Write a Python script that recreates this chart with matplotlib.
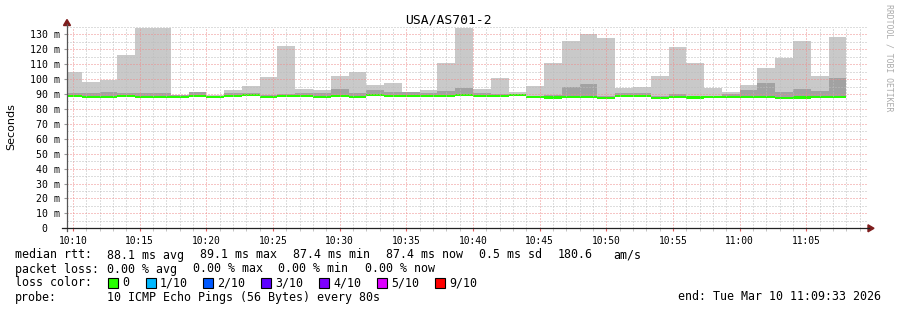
import numpy as np
import matplotlib.pyplot as plt
from matplotlib.ticker import MultipleLocator, FixedLocator
from matplotlib.patches import Polygon, Rectangle

W, H = 897, 310

title = 'USA/AS701-2'
step = 80
first_bar = 10 * 3600 + 9 * 60 + 20      # 10:09:20, first 80s slot (partly cut)
t_start = 10 * 3600 + 9 * 60 + 33        # 10:09:33
t_end = 11 * 3600 + 9 * 60 + 33          # 11:09:33

# median rtt per 80s slot (ms)
median = [88.6, 88.1, 88.1, 88.6, 88.2, 88.2, 88.2, 88.6, 88.1, 88.7,
          89.1, 88.2, 88.7, 88.7, 88.1, 88.8, 88.2, 89.1, 88.7, 88.7,
          88.7, 88.7, 89.1, 88.6, 88.9, 89.1, 88.0, 87.6, 88.0, 87.8,
          87.4, 88.6, 88.6, 87.5, 88.0, 87.6, 87.8, 88.0, 87.8, 88.2,
          87.5, 87.6, 87.8, 87.8]
# top of the smoke (max ping)
smoke_max = [105.0, 98.3, 99.6, 116.2, 134.2, 134.2, 89.6, 91.4, 89.2, 92.9,
             95.4, 101.4, 122.2, 93.4, 92.7, 102.0, 105.0, 96.0, 97.5, 91.3,
             92.7, 110.5, 134.2, 93.5, 100.8, 91.5, 95.4, 110.9, 125.6, 130.2,
             127.5, 94.0, 94.7, 102.0, 121.5, 110.8, 94.0, 91.4, 96.0, 107.4,
             114.1, 125.5, 102.1, 128.2]
# top of the dense (darker) smoke
smoke_mid = [90.7, 90.5, 91.6, 90.5, 90.7, 90.7, 89.4, 91.6, 89.0, 90.7,
             90.7, 89.5, 89.8, 90.8, 90.8, 93.4, 90.9, 92.7, 91.4, 91.4,
             91.0, 92.0, 94.0, 90.7, 89.9, 89.9, 89.0, 89.3, 94.7, 96.7,
             89.0, 90.7, 90.7, 88.5, 90.0, 89.0, 89.0, 90.0, 92.7, 97.4,
             91.4, 93.4, 92.0, 100.7]

xtick_labels = ['10:10', '10:15', '10:20', '10:25', '10:30', '10:35',
                '10:40', '10:45', '10:50', '10:55', '11:00', '11:05']
ytick_values = [0, 10, 20, 30, 40, 50, 60, 70, 80, 90, 100, 110, 120, 130]

loss_labels = ['0', '1/10', '2/10', '3/10', '4/10', '5/10', '9/10']
loss_colors = ['#26ff00', '#00b8ff', '#0059ff', '#5e00ff', '#7e00ff', '#dd00ff', '#ff0000']

mono = 'DejaVu Sans Mono'


def fx(x):
    return x / W


def fy(y):
    return 1 - y / H


fig = plt.figure(figsize=(W / 100, H / 100), dpi=100)
fig.patch.set_facecolor('white')

x0, x1, ybot, ytop = 67, 867, 228.3, 26.9
ax = fig.add_axes([fx(x0), fy(ybot), (x1 - x0) / W, (ybot - ytop) / H])
ax.set_xlim(t_start, t_end)
ax.set_ylim(0, 135)

t = first_bar + step * np.arange(len(median))
med = np.array(median)
lo = med - 0.7

ax.bar(t, np.array(smoke_max) - lo, bottom=lo, width=step, align='edge',
       color='#c9c9c9', linewidth=0, zorder=1)
ax.bar(t, np.array(smoke_mid) - lo, bottom=lo, width=step, align='edge',
       color='#a2a2a2', linewidth=0, zorder=1.1)
ax.bar(t, 1.5, bottom=med - 0.75, width=step, align='edge',
       color=loss_colors[0], linewidth=0, zorder=1.2)

# grid
xt = [10 * 3600 + 10 * 60 + 300 * i for i in range(len(xtick_labels))]
ax.xaxis.set_major_locator(FixedLocator(xt))
ax.xaxis.set_minor_locator(MultipleLocator(60))
ax.yaxis.set_major_locator(FixedLocator(ytick_values))
ax.yaxis.set_minor_locator(MultipleLocator(5))
ax.set_axisbelow(False)
ax.grid(which='minor', color='#bdbdbd', linestyle=(0, (1, 2)), linewidth=0.72, zorder=3)
ax.grid(which='major', color='#ee8c8c', linestyle=(0, (1, 2)), linewidth=0.72, zorder=3)

ax.set_xticklabels(xtick_labels, fontfamily=mono, fontsize=6.9)
ax.set_yticklabels(['0  '] + ['%d m' % v for v in ytick_values[1:]],
                   fontfamily=mono, fontsize=7.1)
ax.tick_params(axis='x', which='major', length=2, color='#e06060', pad=3.2)
ax.tick_params(axis='x', which='minor', length=2, color='#bbbbbb')
ax.tick_params(axis='y', which='major', length=2.2, color='#999999', pad=2.8)
ax.tick_params(axis='y', which='minor', length=0)

for s in ax.spines.values():
    s.set_visible(False)

# axes lines and arrows
fig.add_artist(plt.Line2D([fx(67), fx(67)], [fy(231), fy(24)], color='#555555', lw=0.9))
fig.add_artist(plt.Line2D([fx(62), fx(869)], [fy(228.3), fy(228.3)], color='#222222', lw=0.9))
fig.add_artist(Polygon([[fx(63.5), fy(25.5)], [fx(70.5), fy(25.5)], [fx(67), fy(19.5)]],
                       closed=True, color='#7f1d1d', transform=fig.transFigure))
fig.add_artist(Polygon([[fx(868), fy(224.8)], [fx(868), fy(231.8)], [fx(874), fy(228.3)]],
                       closed=True, color='#7f1d1d', transform=fig.transFigure))

fig.text(fx(448), fy(20), title, ha='center', va='center', fontfamily=mono, fontsize=9.4)
fig.text(fx(11), fy(127), 'Seconds', rotation=90, ha='center', va='center',
         fontfamily='DejaVu Sans', fontsize=8)
fig.text(fx(888.5), fy(4), 'RRDTOOL / TOBI OETIKER', rotation=-90, ha='center', va='top',
         fontfamily=mono, fontsize=5.9, color='#aaaaaa')

# legend
lf = dict(fontfamily=mono, fontsize=8.4, va='baseline', ha='left')
rows = [258.5, 272.5, 286.5, 300.5]
fig.text(fx(15), fy(rows[0]), 'median rtt:', **lf)
for s, x in [('88.1 ms avg', 106.5), ('89.1 ms max', 199.5), ('87.4 ms min', 292.5),
             ('87.4 ms now', 385.5), ('0.5 ms sd', 478.5), ('180.6', 557.5), ('am/s', 613)]:
    fig.text(fx(x), fy(rows[0]), s, **lf)

fig.text(fx(15), fy(rows[1]), 'packet loss:', **lf)
for s, x in [('0.00 % avg', 106.5), ('0.00 % max', 192.5), ('0.00 % min', 278.5),
             ('0.00 % now', 364.5)]:
    fig.text(fx(x), fy(rows[1]), s, **lf)

fig.text(fx(15), fy(rows[2]), 'loss color:', **lf)
sq_x = [108.3, 145.7, 203, 261, 319, 377, 435]
for lab, col, x in zip(loss_labels, loss_colors, sq_x):
    fig.add_artist(Rectangle((fx(x), fy(287.5)), 10 / W, 9.5 / H, facecolor=col,
                             edgecolor='black', linewidth=0.8, transform=fig.transFigure))
    fig.text(fx(x + 14), fy(rows[2]), lab, **lf)

fig.text(fx(15), fy(rows[3]), 'probe:', **lf)
fig.text(fx(106.5), fy(rows[3]), '10 ICMP Echo Pings (56 Bytes) every 80s', **lf)
fig.text(fx(881), fy(rows[3]), 'end: Tue Mar 10 11:09:33 2026',
         fontfamily=mono, fontsize=8.4, va='baseline', ha='right')

fig.savefig('out.png', dpi=100)
